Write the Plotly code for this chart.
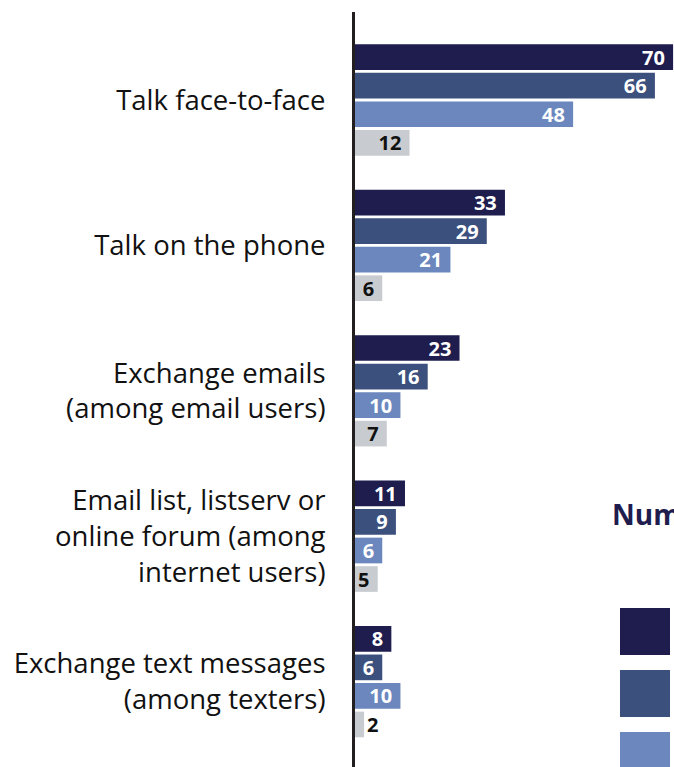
import plotly.graph_objects as go

# Activities (rows, top to bottom)
activities = [
    "Talk face-to-face",
    "Talk on the phone",
    "Exchange emails<br>(among email users)",
    "Email list, listserv or<br>online forum (among<br>internet users)",
    "Exchange text messages<br>(among texters)",
]

# Series values, one list per group
series_names = ["Number of confidants: 3+", "2", "1", "None"]
vals_a = [70, 33, 23, 11, 8]
vals_b = [66, 29, 16, 9, 6]
vals_c = [48, 21, 10, 6, 10]
vals_d = [12, 6, 7, 5, 2]

colors = ["#1e1d4e", "#3c507d", "#6b87be", "#c8ccd0"]
text_colors = ["white", "white", "white", "#111111"]

W, H = 674, 767
ML, MT = 355, 12
PLOT_W, PLOT_H = W - ML, H - MT

FONT = "Open Sans"

fig = go.Figure()
for name, vals, col, tcol in zip(series_names, [vals_a, vals_b, vals_c, vals_d], colors, text_colors):
    fig.add_trace(go.Bar(
        y=activities,
        x=vals,
        name=name,
        orientation="h",
        marker=dict(color=col, line=dict(width=0)),
        text=[f"{v}\u00a0" for v in vals],
        textposition=["outside" if v < 3 else "inside" for v in vals],
        insidetextanchor="end",
        textangle=0,
        constraintext="none",
        textfont=dict(family=FONT, size=20, color=tcol, weight="bold"),
        insidetextfont=dict(family=FONT, size=20, color=tcol, weight="bold"),
        outsidetextfont=dict(family=FONT, size=20, color="#111111", weight="bold"),
        showlegend=False,
        hoverinfo="skip",
    ))


def px_x(p):
    return (p - ML) / PLOT_W


def px_y(p):
    return 1 - (p - MT) / PLOT_H


# Legend block: title and colour swatches
shapes = []
swatch_tops = [608, 670, 732, 794]
for top, col in zip(swatch_tops, colors):
    shapes.append(dict(
        type="rect", xref="paper", yref="paper",
        x0=px_x(620), x1=px_x(670), y0=px_y(top + 47), y1=px_y(top),
        fillcolor=col, line=dict(width=0), layer="above",
    ))

annotations = [dict(
    text="<b>Number of confidants</b>",
    xref="paper", yref="paper",
    x=px_x(610), y=px_y(514),
    xanchor="left", yanchor="middle",
    showarrow=False,
    font=dict(family=FONT, size=28, color="#1e1d4e"),
)]

fig.update_layout(
    width=W, height=H,
    margin=dict(l=ML, r=0, t=MT, b=0, pad=0, autoexpand=False),
    paper_bgcolor="white",
    plot_bgcolor="white",
    barmode="group",
    bargap=0.215,
    bargroupgap=0.1,
    font=dict(family=FONT, color="#111111"),
    shapes=shapes,
    annotations=annotations,
)

fig.update_xaxes(
    range=[0, 70.2],
    showgrid=False, zeroline=False, showticklabels=False, showline=False,
)
fig.update_yaxes(
    range=[4.587, -0.605],
    showgrid=False, zeroline=False,
    showline=True, linecolor="#231f20", linewidth=3,
    ticks="", ticklabelstandoff=21,
    tickfont=dict(family=FONT, size=27.5, color="#111111"),
)

fig.write_html("out.html")
